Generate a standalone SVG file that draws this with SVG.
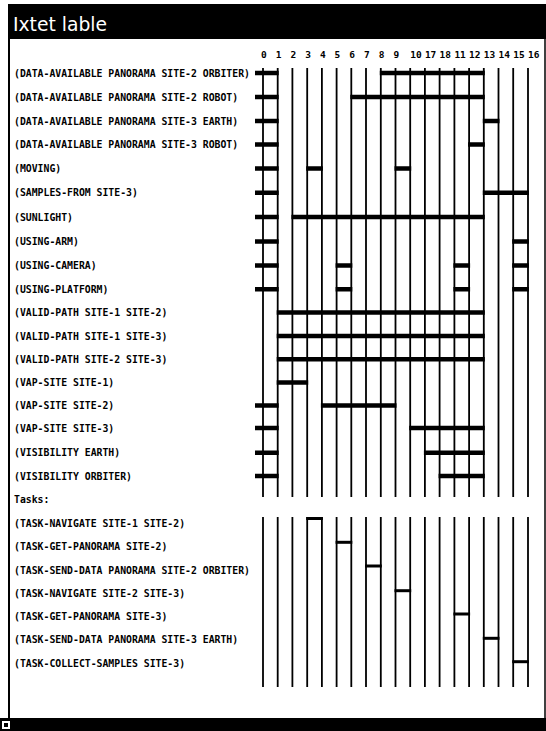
<svg xmlns="http://www.w3.org/2000/svg" width="546" height="731" viewBox="0 0 546 731">
<style>
.lbl{font-family:"DejaVu Sans Mono","Liberation Mono",monospace;font-weight:bold;font-size:9.8px;fill:#000}
.hdr{font-family:"DejaVu Sans Mono","Liberation Mono",monospace;font-weight:bold;font-size:9.5px;fill:#000}
.title{font-family:"DejaVu Sans Condensed","DejaVu Sans",sans-serif;font-size:19px;fill:#fff}
.tl{stroke:#000;stroke-width:1.8;fill:none}
.bar{stroke:#000;stroke-width:4.5;fill:none}
.tbar{stroke:#000;stroke-width:3;fill:none}
</style>
<rect x="0" y="0" width="546" height="731" fill="#fff"/>
<g id="window">
<rect x="8" y="4" width="538" height="35" fill="#000"/>
<text class="title" x="13" y="31" textLength="94" lengthAdjust="spacingAndGlyphs">Ixtet lable</text>
<line x1="9" y1="39" x2="9" y2="718" stroke="#000" stroke-width="2"/>
<line x1="545" y1="39" x2="545" y2="718" stroke="#000" stroke-width="1.5"/>
<rect x="0" y="718" width="546" height="13" fill="#000"/>
<rect x="2" y="721" width="8" height="8" fill="#fff"/>
<rect x="4" y="723" width="4" height="4" fill="#000"/>
</g>
<g id="header">
<text class="hdr" x="261" y="58">0</text>
<text class="hdr" x="275.7" y="58">1</text>
<text class="hdr" x="290.4" y="58">2</text>
<text class="hdr" x="305.2" y="58">3</text>
<text class="hdr" x="319.9" y="58">4</text>
<text class="hdr" x="334.6" y="58">5</text>
<text class="hdr" x="349.3" y="58">6</text>
<text class="hdr" x="364" y="58">7</text>
<text class="hdr" x="378.8" y="58">8</text>
<text class="hdr" x="393.5" y="58">9</text>
<text class="hdr" x="410.2" y="58">10</text>
<text class="hdr" x="424.9" y="58">17</text>
<text class="hdr" x="439.6" y="58">18</text>
<text class="hdr" x="454.4" y="58">11</text>
<text class="hdr" x="469.1" y="58">12</text>
<text class="hdr" x="483.8" y="58">13</text>
<text class="hdr" x="498.5" y="58">14</text>
<text class="hdr" x="513.2" y="58">15</text>
<text class="hdr" x="528" y="58">16</text>
</g>
<g id="connectors">
<path class="tl" d="M263 68V497M277.7 68V497M292.4 68V497M307.2 68V497M321.9 68V497M336.6 68V497M351.3 68V497M366 68V497M380.8 68V497M395.5 68V497M410.2 68V497M424.9 68V497M439.6 68V497M454.4 68V497M469.1 68V497M483.8 68V497M498.5 68V497M513.2 68V497M528 68V497"/>
<path class="tl" d="M263 517V687M277.7 517V687M292.4 517V687M307.2 517V687M321.9 517V687M336.6 517V687M351.3 517V687M366 517V687M380.8 517V687M395.5 517V687M410.2 517V687M424.9 517V687M439.6 517V687M454.4 517V687M469.1 517V687M483.8 517V687M498.5 517V687M513.2 517V687M528 517V687"/>
</g>
<g id="row0"><text class="lbl" x="14" y="76.6">(DATA-AVAILABLE PANORAMA SITE-2 ORBITER)</text><path class="bar" d="M255 73H278.7M379.8 73H484.8"/></g>
<g id="row1"><text class="lbl" x="14" y="100.6">(DATA-AVAILABLE PANORAMA SITE-2 ROBOT)</text><path class="bar" d="M255 97H278.7M350.3 97H484.8"/></g>
<g id="row2"><text class="lbl" x="14" y="124.6">(DATA-AVAILABLE PANORAMA SITE-3 EARTH)</text><path class="bar" d="M255 121H278.7M482.8 121H499.5"/></g>
<g id="row3"><text class="lbl" x="14" y="148.1">(DATA-AVAILABLE PANORAMA SITE-3 ROBOT)</text><path class="bar" d="M255 144.5H278.7M468.1 144.5H484.8"/></g>
<g id="row4"><text class="lbl" x="14" y="172.1">(MOVING)</text><path class="bar" d="M255 168.5H278.7M306.2 168.5H322.9M394.5 168.5H411.2"/></g>
<g id="row5"><text class="lbl" x="14" y="196.4">(SAMPLES-FROM SITE-3)</text><path class="bar" d="M255 192.8H278.7M482.8 192.8H529"/></g>
<g id="row6"><text class="lbl" x="14" y="220.6">(SUNLIGHT)</text><path class="bar" d="M255 217H278.7M291.4 217H484.8"/></g>
<g id="row7"><text class="lbl" x="14" y="245.1">(USING-ARM)</text><path class="bar" d="M255 241.5H278.7M512.2 241.5H529"/></g>
<g id="row8"><text class="lbl" x="14" y="269.1">(USING-CAMERA)</text><path class="bar" d="M255 265.5H278.7M335.6 265.5H352.3M453.4 265.5H470.1M512.2 265.5H529"/></g>
<g id="row9"><text class="lbl" x="14" y="292.9">(USING-PLATFORM)</text><path class="bar" d="M255 289.3H278.7M335.6 289.3H352.3M453.4 289.3H470.1M512.2 289.3H529"/></g>
<g id="row10"><text class="lbl" x="14" y="316.1">(VALID-PATH SITE-1 SITE-2)</text><path class="bar" d="M276.7 312.5H484.8"/></g>
<g id="row11"><text class="lbl" x="14" y="339.6">(VALID-PATH SITE-1 SITE-3)</text><path class="bar" d="M276.7 336H484.8"/></g>
<g id="row12"><text class="lbl" x="14" y="362.8">(VALID-PATH SITE-2 SITE-3)</text><path class="bar" d="M276.7 359.2H484.8"/></g>
<g id="row13"><text class="lbl" x="14" y="386.1">(VAP-SITE SITE-1)</text><path class="bar" d="M276.7 382.5H308.2"/></g>
<g id="row14"><text class="lbl" x="14" y="409.1">(VAP-SITE SITE-2)</text><path class="bar" d="M255 405.5H278.7M320.9 405.5H396.5"/></g>
<g id="row15"><text class="lbl" x="14" y="431.6">(VAP-SITE SITE-3)</text><path class="bar" d="M255 428H278.7M409.2 428H484.8"/></g>
<g id="row16"><text class="lbl" x="14" y="456.3">(VISIBILITY EARTH)</text><path class="bar" d="M255 452.7H278.7M423.9 452.7H484.8"/></g>
<g id="row17"><text class="lbl" x="14" y="479.6">(VISIBILITY ORBITER)</text><path class="bar" d="M255 476H278.7M438.6 476H484.8"/></g>
<g id="tasks-heading"><text class="lbl" x="14" y="502.9">Tasks:</text></g>
<g id="task0"><text class="lbl" x="14" y="526.9">(TASK-NAVIGATE SITE-1 SITE-2)</text><path class="tbar" d="M306.2 518.5H322.9"/></g>
<g id="task1"><text class="lbl" x="14" y="550.3">(TASK-GET-PANORAMA SITE-2)</text><path class="tbar" d="M335.6 542.3H352.3"/></g>
<g id="task2"><text class="lbl" x="14" y="573.6">(TASK-SEND-DATA PANORAMA SITE-2 ORBITER)</text><path class="tbar" d="M365 566H381.8"/></g>
<g id="task3"><text class="lbl" x="14" y="596.9">(TASK-NAVIGATE SITE-2 SITE-3)</text><path class="tbar" d="M394.5 590.7H411.2"/></g>
<g id="task4"><text class="lbl" x="14" y="620.3">(TASK-GET-PANORAMA SITE-3)</text><path class="tbar" d="M453.4 614H470.1"/></g>
<g id="task5"><text class="lbl" x="14" y="643.1">(TASK-SEND-DATA PANORAMA SITE-3 EARTH)</text><path class="tbar" d="M482.8 638.3H499.5"/></g>
<g id="task6"><text class="lbl" x="14" y="666.6">(TASK-COLLECT-SAMPLES SITE-3)</text><path class="tbar" d="M512.2 661.7H529"/></g>
</svg>
